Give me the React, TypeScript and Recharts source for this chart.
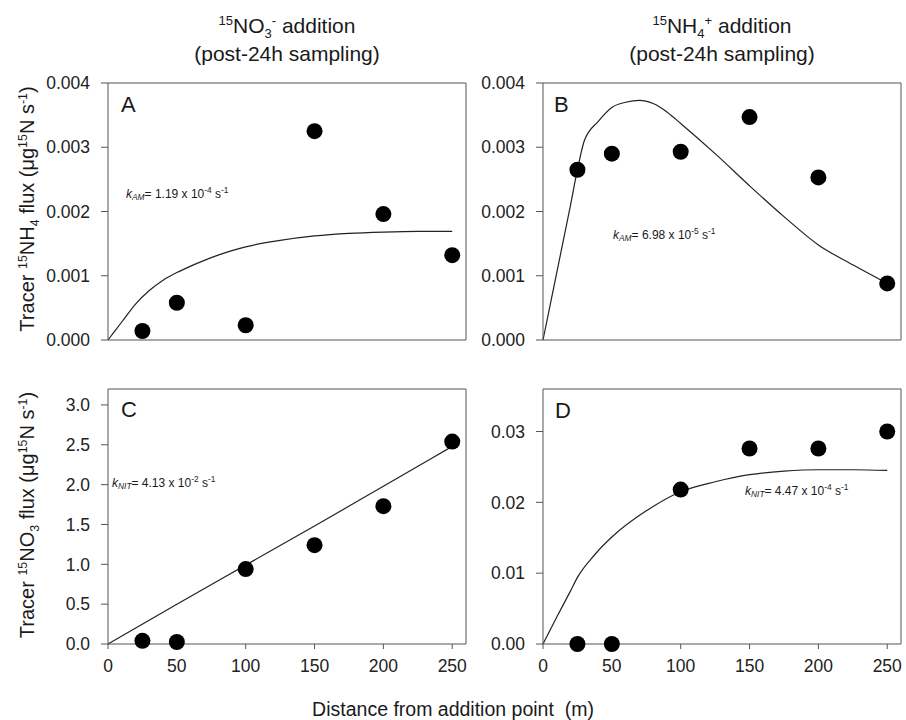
import React from 'react'
import { ComposedChart, Line, Scatter, XAxis, YAxis, ReferenceLine } from 'recharts'

// sampling stations (m downstream of addition point)
const distances = [25, 50, 100, 150, 200, 250]
const xTicks = [0, 50, 100, 150, 200, 250]

// A: tracer 15NH4 flux, 15NO3- addition
const aObserved = [0.00014, 0.00058, 0.00023, 0.00325, 0.00196, 0.00132]
const aFitX = [0, 10, 20, 30, 40, 50, 60, 70, 80, 90, 100, 125, 150, 175, 200, 225, 250]
const aFitY = [0, 0.00028, 0.00056, 0.00077, 0.00093, 0.00105, 0.00115, 0.00124, 0.00132, 0.00139, 0.00145, 0.00155, 0.00162, 0.00166, 0.00168, 0.00169, 0.00169]

// B: tracer 15NH4 flux, 15NH4+ addition
const bObserved = [0.00265, 0.0029, 0.00293, 0.00347, 0.00253, 0.00088]
const bFitX = [0, 10, 20, 25, 30, 40, 50, 60, 70, 80, 90, 100, 125, 150, 175, 200, 225, 250]
const bFitY = [0, 0.00105, 0.0021, 0.00265, 0.0031, 0.0034, 0.00362, 0.0037, 0.00373, 0.00368, 0.00355, 0.00337, 0.0029, 0.0024, 0.00192, 0.00148, 0.00117, 0.00088]

// C: tracer 15NO3 flux, 15NO3- addition
const cObserved = [0.04, 0.025, 0.94, 1.24, 1.73, 2.54]
const cFitX = [0, 50, 100, 150, 200, 250]
const cFitY = [0, 0.5, 0.99, 1.48, 1.98, 2.48]

// D: tracer 15NO3 flux, 15NH4+ addition
const dObserved = [0, 0, 0.0218, 0.0276, 0.0276, 0.03]
const dFitX = [0, 10, 20, 25, 37.5, 50, 75, 100, 125, 150, 175, 200, 225, 250]
const dFitY = [0, 0.0038, 0.0075, 0.0094, 0.0126, 0.0151, 0.0188, 0.0215, 0.0229, 0.0239, 0.0244, 0.0246, 0.0246, 0.0245]

const FONT = '"Liberation Sans", Arial, sans-serif'
const AXIS = '#555'
const X_MAX = 260

const dotShape = (p: any) => <circle cx={p.cx} cy={p.cy} r={8} fill="#000" />

function Sup({ children, size = '0.62em', up = '-0.6em' }: any) {
  return <span style={{ fontSize: size, position: 'relative', top: up }}>{children}</span>
}

function Sub({ children, size = '0.62em', down = '0.4em', italic = false }: any) {
  return (
    <span style={{ fontSize: size, position: 'relative', top: down, fontStyle: italic ? 'italic' : 'normal' }}>
      {children}
    </span>
  )
}

function Panel({ left, top, height, marginTop, xAxisHeight, xLabels, yMax, yTicks, decimals, observed, fitX, fitY }: any) {
  const points = distances.map((x, i) => ({ x, y: observed[i] }))
  const curve = fitX.map((x: number, i: number) => ({ x, y: fitY[i] }))
  return (
    <div style={{ position: 'absolute', left, top }}>
      <ComposedChart width={470} height={height} margin={{ top: marginTop, right: 4, bottom: 0, left: 0 }}>
        <XAxis
          type="number"
          dataKey="x"
          domain={[0, X_MAX]}
          ticks={xTicks}
          height={xAxisHeight}
          tickSize={5}
          tickMargin={11}
          stroke={AXIS}
          tick={xLabels ? { fontSize: 17.5, fill: '#222', fontFamily: FONT } : false}
        />
        <YAxis
          type="number"
          domain={[0, yMax]}
          ticks={yTicks}
          width={108}
          tickSize={7}
          tickMargin={11}
          stroke={AXIS}
          tickFormatter={(v: number) => v.toFixed(decimals)}
          tick={{ fontSize: 17.5, fill: '#222', fontFamily: FONT }}
        />
        <ReferenceLine y={yMax} stroke={AXIS} />
        <ReferenceLine x={X_MAX} stroke={AXIS} />
        <Line
          data={curve}
          dataKey="y"
          type="monotone"
          stroke="#222"
          strokeWidth={1.2}
          dot={false}
          activeDot={false}
          isAnimationActive={false}
        />
        <Scatter data={points} dataKey="y" fill="#000" shape={dotShape} isAnimationActive={false} />
      </ComposedChart>
    </div>
  )
}

function Text({ x, baseline, size, center = false, children }: any) {
  return (
    <div
      style={{
        position: 'absolute',
        left: x,
        top: baseline - 0.85 * size,
        fontSize: size,
        lineHeight: 1,
        whiteSpace: 'nowrap',
        color: '#1a1a1a',
        transform: center ? 'translateX(-50%)' : undefined,
      }}
    >
      {children}
    </div>
  )
}

function Rate({ x, baseline, name, value, exp }: any) {
  return (
    <Text x={x} baseline={baseline} size={12}>
      <i>k</i>
      <Sub size="0.7em" down="0.3em" italic>{name}</Sub>= {value} x 10<Sup size="0.7em" up="-0.55em">{exp}</Sup> s
      <Sup size="0.7em" up="-0.55em">-1</Sup>
    </Text>
  )
}

function YTitle({ cy, children }: any) {
  return (
    <div
      style={{
        position: 'absolute',
        left: 27,
        top: cy,
        fontSize: 20,
        lineHeight: 1,
        whiteSpace: 'nowrap',
        color: '#1a1a1a',
        transform: 'translate(-50%, -50%) rotate(-90deg)',
      }}
    >
      {children}
    </div>
  )
}

export default function App() {
  return (
    <div
      style={{
        position: 'absolute',
        left: 0,
        top: 0,
        width: 906,
        height: 720,
        background: '#fff',
        fontFamily: FONT,
        overflow: 'hidden',
      }}
    >
      <Panel left={0} top={0} height={370} marginTop={83} xAxisHeight={30} xLabels={false}
        yMax={0.004} yTicks={[0, 0.001, 0.002, 0.003, 0.004]} decimals={3}
        observed={aObserved} fitX={aFitX} fitY={aFitY} />
      <Panel left={435} top={0} height={370} marginTop={83} xAxisHeight={30} xLabels={false}
        yMax={0.004} yTicks={[0, 0.001, 0.002, 0.003, 0.004]} decimals={3}
        observed={bObserved} fitX={bFitX} fitY={bFitY} />
      <Panel left={0} top={360} height={330} marginTop={29} xAxisHeight={46} xLabels
        yMax={3.2} yTicks={[0, 0.5, 1, 1.5, 2, 2.5, 3]} decimals={1}
        observed={cObserved} fitX={cFitX} fitY={cFitY} />
      <Panel left={435} top={360} height={330} marginTop={29} xAxisHeight={46} xLabels
        yMax={0.036} yTicks={[0, 0.01, 0.02, 0.03]} decimals={2}
        observed={dObserved} fitX={dFitX} fitY={dFitY} />

      <Text x={287} baseline={33} size={21} center>
        <Sup>15</Sup>NO<Sub>3</Sub><Sup>-</Sup> addition
      </Text>
      <Text x={287} baseline={61} size={21} center>(post-24h sampling)</Text>
      <Text x={722} baseline={33} size={21} center>
        <Sup>15</Sup>NH<Sub>4</Sub><Sup>+</Sup> addition
      </Text>
      <Text x={722} baseline={61} size={21} center>(post-24h sampling)</Text>

      <Text x={121} baseline={113} size={22}>A</Text>
      <Text x={554} baseline={113} size={22}>B</Text>
      <Text x={121} baseline={418} size={22}>C</Text>
      <Text x={555} baseline={419} size={22}>D</Text>

      <Rate x={126} baseline={198} name="AM" value="1.19" exp="-4" />
      <Rate x={613} baseline={239} name="AM" value="6.98" exp="-5" />
      <Rate x={112} baseline={487} name="NIT" value="4.13" exp="-2" />
      <Rate x={745} baseline={495} name="NIT" value="4.47" exp="-4" />

      <YTitle cy={209}>
        Tracer <Sup>15</Sup>NH<Sub>4</Sub> flux (μg<Sup>15</Sup>N s<Sup>-1</Sup>)
      </YTitle>
      <YTitle cy={515}>
        Tracer <Sup>15</Sup>NO<Sub>3</Sub> flux (μg<Sup>15</Sup>N s<Sup>-1</Sup>)
      </YTitle>

      <Text x={453} baseline={717} size={19.5} center>Distance from addition point&nbsp;&nbsp;(m)</Text>
    </div>
  )
}
